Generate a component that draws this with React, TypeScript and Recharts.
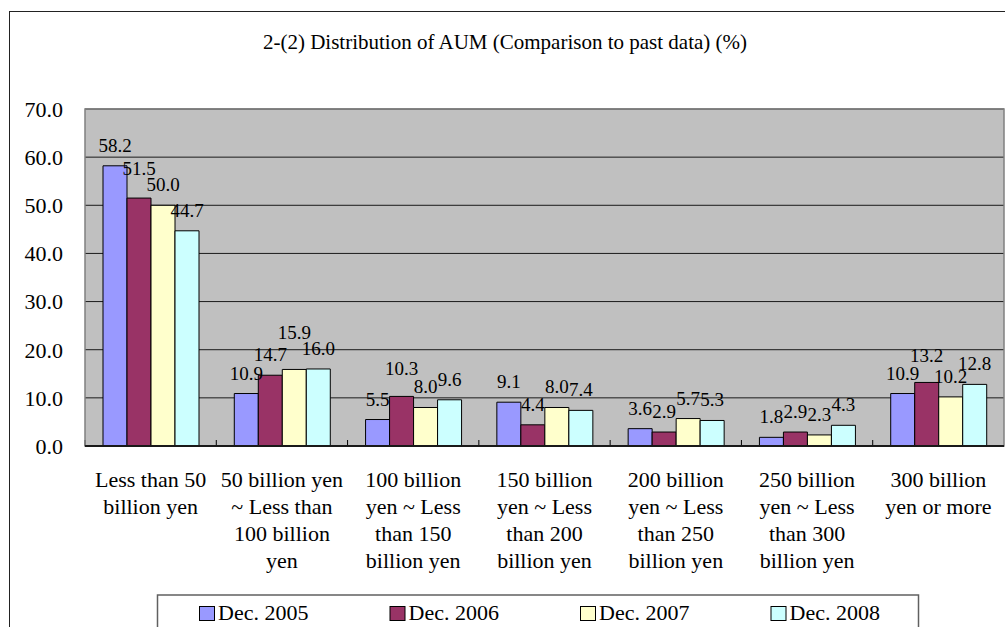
import React from 'react';
import { BarChart, Bar, XAxis, YAxis, CartesianGrid, LabelList } from 'recharts';

// Asset-size brackets (line breaks mark wrapped axis labels)
const CATEGORIES = [
  'Less than 50\nbillion yen',
  '50 billion yen\n~ Less than\n100 billion\nyen',
  '100 billion\nyen ~ Less\nthan 150\nbillion yen',
  '150 billion\nyen ~ Less\nthan 200\nbillion yen',
  '200 billion\nyen ~ Less\nthan 250\nbillion yen',
  '250 billion\nyen ~ Less\nthan 300\nbillion yen',
  '300 billion\nyen or more',
];

const DEC_2005 = [58.2, 10.9, 5.5, 9.1, 3.6, 1.8, 10.9];
const DEC_2006 = [51.5, 14.7, 10.3, 4.4, 2.9, 2.9, 13.2];
const DEC_2007 = [50.0, 15.9, 8.0, 8.0, 5.7, 2.3, 10.2];
const DEC_2008 = [44.7, 16.0, 9.6, 7.4, 5.3, 4.3, 12.8];

const SERIES_NAMES = ['Dec. 2005', 'Dec. 2006', 'Dec. 2007', 'Dec. 2008'];
const Y_TICKS = [0, 10, 20, 30, 40, 50, 60, 70];

const TITLE = '2-(2) Distribution of AUM (Comparison to past data) (%)';

const COLORS = ['#9999FF', '#993366', '#FFFFCC', '#CCFFFF'];
const FONT = 'Liberation Serif';

const W = 1005;
const H = 627;
const PLOT_LEFT = 85;
const PLOT_TOP = 109;
const PLOT_RIGHT = 1004;
const PLOT_BOTTOM = 446;

// Extra upward shift (px) for a few crowded value labels, keyed "series-category"
const LABEL_LIFT: Record<string, number> = { '1-0': 9, '2-1': 16, '1-2': 7, '1-6': 6 };

const SERIES_KEYS = ['s2005', 's2006', 's2007', 's2008'];
const SERIES_VALUES = [DEC_2005, DEC_2006, DEC_2007, DEC_2008];

const data = CATEGORIES.map((category, i) => {
  const row: Record<string, string | number> = { category };
  SERIES_KEYS.forEach((k, s) => {
    row[k] = SERIES_VALUES[s][i];
  });
  return row;
});

const halfBand = (PLOT_RIGHT - PLOT_LEFT) / CATEGORIES.length / 2;

function CategoryTick(props: any) {
  const { x, y, payload } = props;
  const lines = String(payload.value).split('\n');
  const left = x - halfBand;
  return (
    <g>
      <line x1={left} y1={y} x2={left} y2={y - 6} stroke="#000" strokeWidth={1} />
      <text textAnchor="middle" fontFamily={FONT} fontSize={22} fill="#000">
        {lines.map((line, i) => (
          <tspan key={i} x={x} y={y + 41 + i * 27}>
            {line}
          </tspan>
        ))}
      </text>
    </g>
  );
}

function makeValueLabel(series: number) {
  return function ValueLabel(props: any) {
    const { x, y, width, value, index } = props;
    const lift = LABEL_LIFT[`${series}-${index}`] ?? 0;
    return (
      <text
        x={Number(x) + Number(width) / 2}
        y={Number(y) - 14 - lift}
        textAnchor="middle"
        fontFamily={FONT}
        fontSize={19}
        fill="#000"
      >
        {Number(value).toFixed(1)}
      </text>
    );
  };
}

export default function App() {
  return (
    <div
      style={{
        position: 'absolute',
        left: 0,
        top: 0,
        width: W,
        height: H,
        overflow: 'hidden',
        background: '#fff',
        fontFamily: FONT,
      }}
    >
      <div
        style={{
          position: 'absolute',
          left: 9,
          top: 11,
          width: 1020,
          height: 700,
          border: '1.5px solid #222',
          boxSizing: 'border-box',
        }}
      />
      <div style={{ position: 'absolute', left: 0, top: 0 }}>
        <BarChart
          width={W}
          height={H}
          data={data}
          margin={{ top: PLOT_TOP, right: W - PLOT_RIGHT, bottom: 0, left: 0 }}
          barGap={0}
          barSize={24}
        >
          <CartesianGrid vertical={false} fill="#C0C0C0" stroke="#1a1a1a" strokeWidth={1} />
          <YAxis
            width={PLOT_LEFT}
            domain={[0, 70]}
            ticks={Y_TICKS}
            interval={0}
            axisLine={false}
            tickLine={false}
            tickSize={0}
            tickMargin={22}
            tickFormatter={(v: number) => v.toFixed(1)}
            tick={{ fontFamily: FONT, fontSize: 22, fill: '#000' }}
          />
          <XAxis
            dataKey="category"
            height={H - PLOT_BOTTOM}
            interval={0}
            tickLine={false}
            tickSize={0}
            tickMargin={0}
            axisLine={{ stroke: '#000', strokeWidth: 1.5 }}
            tick={<CategoryTick />}
          />
          {SERIES_KEYS.map((k, s) => (
            <Bar
              key={k}
              dataKey={k}
              name={SERIES_NAMES[s]}
              fill={COLORS[s]}
              stroke="#000"
              strokeWidth={1}
              isAnimationActive={false}
            >
              <LabelList dataKey={k} content={makeValueLabel(s)} />
            </Bar>
          ))}
        </BarChart>
      </div>
      <svg
        width={W}
        height={H}
        style={{ position: 'absolute', left: 0, top: 0, pointerEvents: 'none' }}
      >
        <rect
          x={PLOT_LEFT}
          y={PLOT_TOP}
          width={PLOT_RIGHT - PLOT_LEFT}
          height={PLOT_BOTTOM - PLOT_TOP}
          fill="none"
          stroke="#808080"
          strokeWidth={1.5}
        />
        <line x1={PLOT_LEFT} y1={PLOT_BOTTOM} x2={PLOT_RIGHT} y2={PLOT_BOTTOM} stroke="#000" strokeWidth={1.5} />
        <text x={505} y={49} textAnchor="middle" fontFamily={FONT} fontSize={21} fill="#000">
          {TITLE}
        </text>
        <rect x={157.5} y={595} width={761} height={60} fill="#fff" stroke="#606060" strokeWidth={1.5} />
        {SERIES_NAMES.map((name, s) => (
          <g key={name}>
            <rect x={199.5 + s * 190.5} y={606.5} width={15} height={14} fill={COLORS[s]} stroke="#000" strokeWidth={1} />
            <text x={218 + s * 190.5} y={620} fontFamily={FONT} fontSize={22} fill="#000">
              {name}
            </text>
          </g>
        ))}
      </svg>
    </div>
  );
}
